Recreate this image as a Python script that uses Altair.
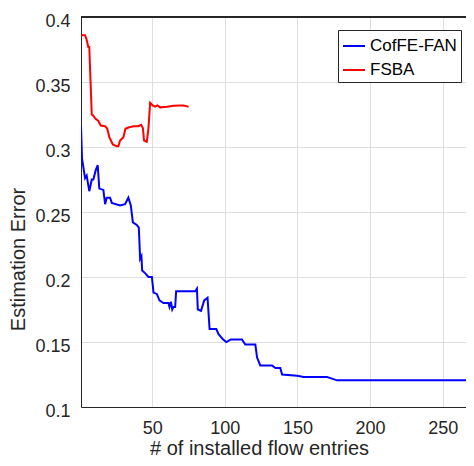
import altair as alt
import pandas as pd

# CofFE-FAN (blue)
coffe_x = [1, 1.7, 3.8, 4.9, 6.7, 8.4, 9.5, 11.1, 12.5, 13.6, 16.4, 17.6, 18.7, 21, 22.2,
           27.9, 31.3, 33.6, 35.3, 36.7, 39.4, 40.8, 41.7, 42.6, 43.1, 45.1, 47.4, 49.8,
           50.9, 53.2, 55, 57.8, 61.2, 61.9, 62.9, 63.8, 64.7, 65.8, 66.5, 79.6, 80.8,
           81.4, 83.6, 85.8, 88.1, 89.5, 94.1, 95.7, 98.7, 101, 104.2, 111.8, 114.1, 121,
           122.2, 124.4, 132.5, 134.8, 138.2, 139.4, 149.8, 154.3, 170.4, 173.2, 177.3, 271]
coffe_y = [0.316, 0.291, 0.276, 0.278, 0.266, 0.275, 0.275, 0.282, 0.286, 0.268, 0.267,
           0.256, 0.261, 0.261, 0.257, 0.255, 0.256, 0.261, 0.255, 0.242, 0.240, 0.238,
           0.214, 0.216, 0.205, 0.203, 0.200, 0.200, 0.188, 0.187, 0.182, 0.180, 0.180,
           0.177, 0.181, 0.175, 0.177, 0.177, 0.189, 0.189, 0.191, 0.175, 0.174, 0.182,
           0.184, 0.160, 0.160, 0.156, 0.152, 0.150, 0.152, 0.152, 0.148, 0.148, 0.138,
           0.132, 0.132, 0.130, 0.130, 0.125, 0.124, 0.123, 0.123, 0.122, 0.1205, 0.1205]

# FSBA (red)
fsba_x = [1, 3.8, 4.9, 6.0, 6.7, 8.4, 9.5, 10.7, 12.9, 14.6, 17.6, 19.1, 20.5, 22.9, 25.6,
          26.7, 27.9, 30.2, 31.6, 33.6, 37.1, 40.5, 42.4, 43.6, 44.4, 46.3, 47.4, 48.6,
          50.4, 52, 53.6, 55.5, 60.1, 64.7, 69.3, 71.6, 75]
fsba_y = [0.386, 0.386, 0.3825, 0.377, 0.377, 0.325, 0.324, 0.322, 0.320, 0.3165, 0.316,
          0.314, 0.3076, 0.302, 0.3005, 0.3005, 0.305, 0.3076, 0.314, 0.315, 0.316, 0.316,
          0.317, 0.3145, 0.305, 0.304, 0.314, 0.334, 0.332, 0.331, 0.332, 0.3305, 0.331,
          0.3317, 0.332, 0.332, 0.331]

series = ["CofFE-FAN", "FSBA"]
colors = ["#0000ff", "#ff0000"]
x_ticks = [50, 100, 150, 200, 250]
y_ticks = [0.1, 0.15, 0.2, 0.25, 0.3, 0.35, 0.4]

rows = []
for i, (x, y) in enumerate(zip(coffe_x, coffe_y)):
    rows.append({"x": x, "y": y, "s": series[0], "o": i})
for i, (x, y) in enumerate(zip(fsba_x, fsba_y)):
    rows.append({"x": x, "y": y, "s": series[1], "o": i})
df = pd.DataFrame(rows)

FONT = "Liberation Sans"
TXT = "#262626"

lines = alt.Chart(df).mark_line(strokeWidth=2, clip=True).encode(
    x=alt.X("x:Q", scale=alt.Scale(domain=[1, 266], nice=False, zero=False),
            axis=alt.Axis(values=x_ticks, format="d", title="# of installed flow entries",
                          titleX=178, titleY=47, titleBaseline="alphabetic",
                          labelBaseline="alphabetic", labelPadding=26)),
    y=alt.Y("y:Q", scale=alt.Scale(domain=[0.1, 0.4], nice=False, zero=False),
            axis=alt.Axis(values=y_ticks, format="~g", title="Estimation Error",
                          titleX=-57, titleY=242, titleBaseline="alphabetic",
                          titleAngle=270, titleAlign="center",
                          labelBaseline="alphabetic", labelOffset=9, labelPadding=11)),
    color=alt.Color("s:N", scale=alt.Scale(domain=series, range=colors),
                    legend=alt.Legend(title=None, orient="none", legendX=257, legendY=13,
                                      fillColor="white", strokeColor=TXT, padding=4,
                                      symbolType="stroke", symbolSize=484,
                                      symbolStrokeWidth=2, labelFontSize=17,
                                      labelFont=FONT, labelColor="black", rowPadding=4,
                                      labelOffset=4,
                                      labelExpr="datum.label + '\u00a0'")),
    order="o:Q",
)

top = alt.Chart(df).mark_rule(color=TXT, strokeWidth=1).encode(y=alt.value(0))

chart = alt.layer(lines, top).properties(
    width=385, height=390,
    autosize=alt.AutoSizeParams(type="none"),
    padding={"left": 73, "top": 9, "right": 0, "bottom": 51},
).configure_view(stroke=None).configure_axis(
    labelFont=FONT, labelFontSize=18, labelColor=TXT,
    titleFont=FONT, titleFontSize=20, titleColor=TXT, titleFontWeight="normal",
    domainColor=TXT, domainWidth=1, tickSize=0,
    gridColor="#dfdfdf", gridWidth=1,
)

chart.save("out.html", embed_options={"renderer": "svg", "actions": False})
